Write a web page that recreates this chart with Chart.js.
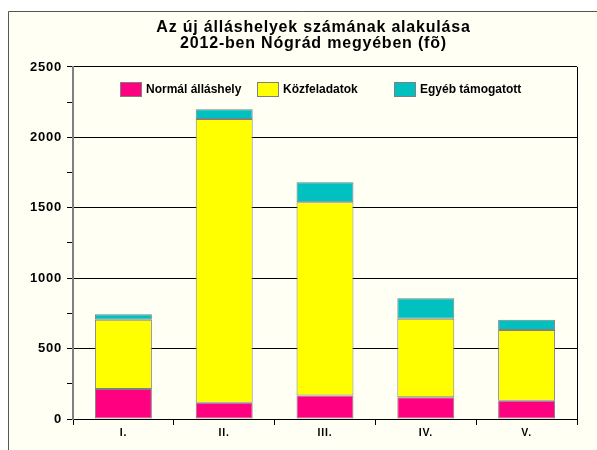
<!DOCTYPE html>
<html>
<head>
<meta charset="utf-8">
<script src="https://cdn.jsdelivr.net/npm/chart.js@4"></script>
<style>
  html, body { margin: 0; padding: 0; background: #fff; }
  #wrap { width: 597px; height: 450px; position: relative; }
</style>
</head>
<body>
<div id="wrap"><canvas id="chart"></canvas></div>
<script>
const titleLines = ['Az új álláshelyek számának alakulása', '2012-ben Nógrád megyében (fõ)'];
const regions = ['I.', 'II.', 'III.', 'IV.', 'V.'];
const seriesNames = ['Normál álláshely', 'Közfeladatok', 'Egyéb támogatott'];
const normal = [213, 116, 166, 154, 130];
const kozfeladat = [492, 2014, 1373, 558, 502];
const egyeb = [38, 70, 142, 145, 73];
const yMax = 2500;
const yMajor = 500;
const yMinor = 250;

const colors = ['#ff0080', '#ffff00', '#00c0c0'];
const FONT = 'Arial, "Liberation Sans", sans-serif';
Chart.defaults.font.family = FONT;
Chart.defaults.color = '#000';

// cream panel with thin frame, like the spreadsheet chart object
const background = {
  id: 'background',
  afterLayout(chart) {
    // title in the original is centred a bit right of the canvas middle
    const t = chart.titleBlock;
    if (t) { t.left += 25; t.right += 25; }
  },
  beforeDraw(chart) {
    const { ctx, width, height } = chart;
    ctx.save();
    ctx.fillStyle = '#fff';
    ctx.fillRect(0, 0, width, height);
    ctx.fillStyle = '#fffff4';
    ctx.fillRect(8, 11, width - 8, height - 11);
    ctx.strokeStyle = '#555';
    ctx.lineWidth = 1;
    ctx.beginPath();
    ctx.moveTo(8.5, height);
    ctx.lineTo(8.5, 11.5);
    ctx.lineTo(width, 11.5);
    ctx.stroke();
    ctx.restore();
    // the old excel rendering is a bit wider than canvas text
    ctx.letterSpacing = '0.8px';
  }
};

const rightBorder = {
  id: 'rightBorder',
  afterDatasetsDraw(chart) {
    const { ctx, chartArea: a } = chart;
    ctx.save();
    ctx.strokeStyle = '#000';
    ctx.lineWidth = 1;
    ctx.beginPath();
    ctx.moveTo(Math.round(a.right) + 0.5, a.top);
    ctx.lineTo(Math.round(a.right) + 0.5, a.bottom + 6);
    ctx.stroke();
    ctx.restore();
  }
};

// legend sits inside the plot area, in equal-width columns
const innerLegend = {
  id: 'innerLegend',
  afterDraw(chart) {
    const { ctx } = chart;
    ctx.save();
    ctx.letterSpacing = '0px';
    ctx.font = 'bold 12px ' + FONT;
    ctx.textBaseline = 'middle';
    chart.data.datasets.forEach((ds, i) => {
      const x = 120 + i * 137;
      const y = 82;
      ctx.fillStyle = ds.backgroundColor;
      ctx.fillRect(x, y, 22, 15);
      ctx.strokeStyle = '#808080';
      ctx.lineWidth = 1;
      ctx.strokeRect(x + 0.5, y + 0.5, 21, 14);
      ctx.fillStyle = '#000';
      ctx.fillText(ds.label, x + 26, y + 8);
    });
    ctx.restore();
  }
};

new Chart(document.getElementById('chart'), {
  type: 'bar',
  data: {
    labels: regions,
    datasets: [
      { label: seriesNames[0], data: normal, backgroundColor: colors[0] },
      { label: seriesNames[1], data: kozfeladat, backgroundColor: colors[1] },
      { label: seriesNames[2], data: egyeb, backgroundColor: colors[2] }
    ].map(d => Object.assign(d, {
      borderColor: '#808080',
      borderWidth: 1,
      borderSkipped: false,
      categoryPercentage: 1,
      barPercentage: 0.565
    }))
  },
  options: {
    responsive: true,
    maintainAspectRatio: false,
    devicePixelRatio: 1,
    animation: false,
    layout: { padding: { left: 0, right: 20, top: 0, bottom: 0 } },
    plugins: {
      legend: { display: false },
      tooltip: { enabled: false },
      title: {
        display: true,
        text: titleLines,
        color: '#000',
        font: { size: 16, weight: 'bold', lineHeight: 1.03 },
        padding: { top: 19, bottom: 15 }
      }
    },
    scales: {
      x: {
        stacked: true,
        afterFit: s => { s.height = 31; },
        grid: { offset: true, drawOnChartArea: false, color: '#000', tickLength: 6 },
        border: { color: '#000', width: 1 },
        ticks: { color: '#000', padding: 2, font: { size: 10.5, weight: 'bold' } }
      },
      y: {
        stacked: true,
        min: 0,
        max: yMax,
        afterFit: s => { s.width = 73; },
        grid: {
          color: c => (c.tick && c.tick.value > 0 && c.tick.value % yMajor === 0) ? '#000' : 'rgba(0,0,0,0)',
          tickColor: '#000',
          tickLength: 6
        },
        border: { color: '#808080', width: 2 },
        ticks: {
          stepSize: yMinor,
          autoSkip: false,
          padding: 5,
          color: '#000',
          font: { size: 13, weight: 'bold' },
          callback: v => (v % yMajor === 0 ? v : '')
        }
      }
    }
  },
  plugins: [background, rightBorder, innerLegend]
});
</script>
</body>
</html>
